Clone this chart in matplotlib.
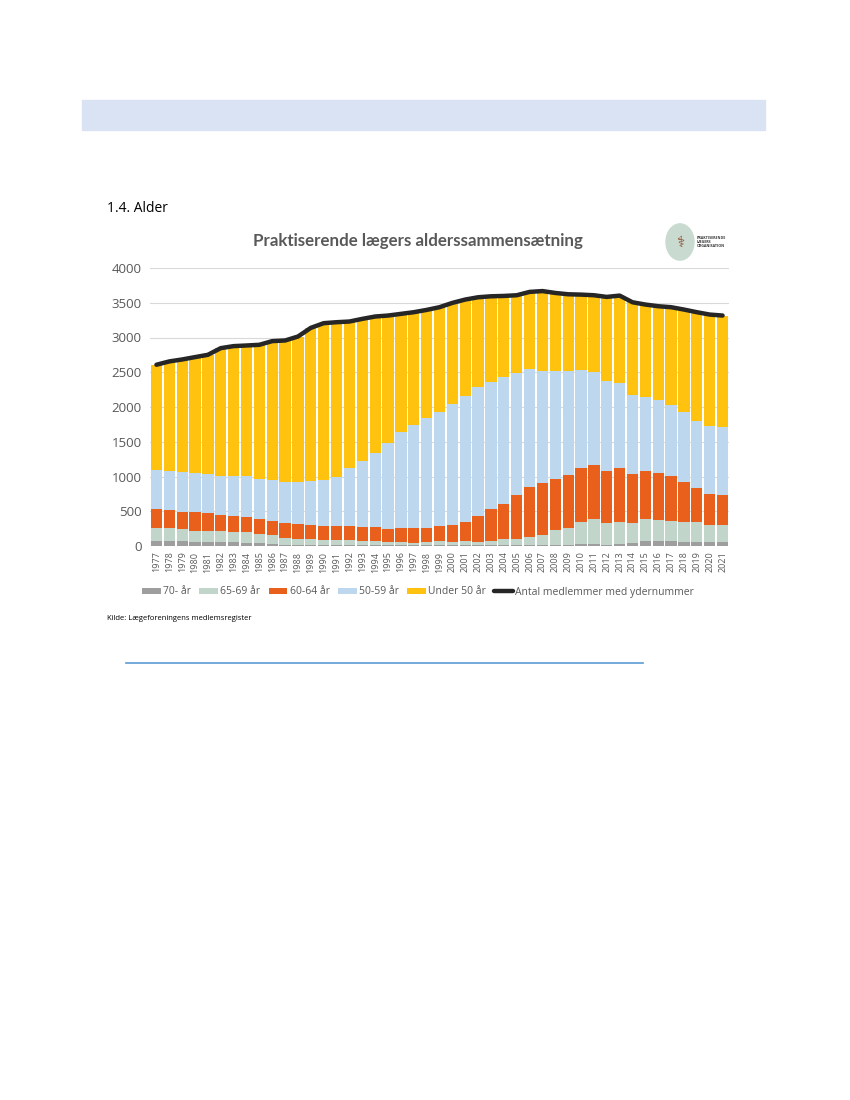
import matplotlib
matplotlib.use("Agg")
import matplotlib.pyplot as plt
from matplotlib.patches import Rectangle, Circle
import numpy as np

# data
years = list(range(1977, 2022))

over70 = [72, 77, 72, 57, 53, 53, 53, 48, 43, 33, 10, 10, 8, 8, 8, 8, 8, 8, 8, 8, 8, 8, 10,
          10, 10, 10, 10, 12, 12, 12, 8, 8, 19, 29, 29, 19, 33, 48, 77, 77, 72, 57, 57, 62, 62]
age65_69 = [182, 186, 172, 163, 167, 158, 148, 148, 134, 120, 105, 95, 88, 83, 78, 78, 69, 64,
            54, 54, 40, 54, 62, 47, 57, 52, 67, 84, 93, 112, 150, 217, 239, 316, 363, 311, 312,
            277, 306, 296, 292, 292, 283, 244, 235]
age60_64 = [272, 249, 249, 273, 254, 234, 234, 225, 215, 211, 215, 211, 205, 201, 196, 196, 196,
            206, 187, 196, 210, 201, 215, 244, 278, 364, 459, 512, 622, 718, 742, 737, 761, 775,
            780, 747, 775, 713, 689, 680, 641, 579, 493, 440, 435]
age50_59 = [565, 565, 569, 560, 569, 560, 579, 584, 570, 588, 594, 612, 632, 660, 708, 838, 947,
            1062, 1234, 1378, 1479, 1579, 1646, 1742, 1808, 1856, 1828, 1818, 1756, 1699, 1617,
            1555, 1498, 1406, 1331, 1292, 1225, 1130, 1072, 1052, 1019, 1000, 966, 981, 981]
under50 = [1517, 1579, 1622, 1665, 1708, 1842, 1862, 1880, 1933, 1996, 2033, 2086, 2206, 2254,
           2230, 2110, 2048, 1962, 1833, 1704, 1627, 1555, 1503, 1455, 1393, 1297, 1229, 1172,
           1125, 1115, 1151, 1124, 1105, 1091, 1105, 1215, 1258, 1339, 1330, 1345, 1412, 1474,
           1565, 1603, 1603]
antal = [2608, 2656, 2684, 2718, 2751, 2847, 2876, 2885, 2895, 2948, 2957, 3014, 3139, 3206,
         3220, 3230, 3268, 3302, 3316, 3340, 3364, 3397, 3436, 3498, 3546, 3579, 3593, 3598,
         3608, 3656, 3668, 3641, 3622, 3617, 3608, 3584, 3603, 3507, 3474, 3450, 3436, 3402,
         3364, 3330, 3316]

labels = ["70- år", "65-69 år", "60-64 år", "50-59 år", "Under 50 år"]
colors = ["#9E9E9E", "#C2D5CA", "#E9601D", "#BDD7EE", "#FFC20E"]
series = [over70, age65_69, age60_64, age50_59, under50]

txt = "#595959"
plt.rcParams['font.family'] = ['Open Sans', 'DejaVu Sans']

fig = plt.figure(figsize=(8.5, 11), dpi=100)

# page decorations
fig.patches.append(Rectangle((82 / 850, 1 - 130 / 1100), (765 - 82) / 850, 30 / 1100,
                             transform=fig.transFigure, color="#DAE3F3", zorder=0))
fig.text(107 / 850, 1 - 208 / 1100, "1.4. Alder", fontsize=10, color="black",
         va="center", ha="left")
fig.text(418 / 850, 1 - 241 / 1100, "Praktiserende lægers alderssammensætning",
         fontsize=12.2, fontweight="bold", color=txt, ha="center", va="center",
         family=["Lato", "DejaVu Sans"])
fig.patches.append(Circle((680 / 850, 1 - 242 / 1100), 14 / 850, transform=fig.transFigure,
                          color="#C9DBD0", zorder=1))
fig.text(680 / 850, 1 - 242 / 1100, "⚕", fontsize=11, color="#8B4A2B", ha="center",
         va="center", family=["DejaVu Sans"])
fig.text(697 / 850, 1 - 242 / 1100, "PRAKTISERENDE\nLÆGERS\nORGANISATION", fontsize=2.6,
         color="#333333", ha="left", va="center", fontweight="bold", linespacing=1.1)

ax = fig.add_axes([150 / 850, 1 - 546 / 1100, (729 - 150) / 850, (546 - 268) / 1100])
x = np.arange(len(years))
bottom = np.zeros(len(years))
for vals, lab, col in zip(series, labels, colors):
    ax.bar(x, vals, bottom=bottom, width=0.88, color=col, label=lab, zorder=2)
    bottom += np.array(vals)
ax.plot(x, antal, color="#262626", lw=3.2, label="Antal medlemmer med ydernummer",
        zorder=3, solid_capstyle="round")

ax.set_xlim(-0.5, len(years) - 0.5)
ax.set_ylim(0, 4000)
ax.set_yticks(range(0, 4001, 500))
ax.set_xticks(x)
ax.set_xticklabels([str(y) for y in years], rotation=90, fontsize=6.5, color=txt)
ax.tick_params(axis="y", labelsize=9.5, colors=txt, length=0, pad=6)
ax.tick_params(axis="x", length=0, pad=4)
ax.grid(axis="y", color="#D9D9D9", lw=0.8, zorder=0)
for s in ax.spines.values():
    s.set_visible(False)

handles, labs = ax.get_legend_handles_labels()
order = [1, 2, 3, 4, 5, 0]
fig.legend([handles[i] for i in order], [labs[i] for i in order], loc="center",
           bbox_to_anchor=(418 / 850, 1 - 592 / 1100), ncol=6, frameon=False,
           fontsize=7.5, labelcolor=txt, handlelength=1.8, handleheight=0.6,
           columnspacing=0.8, handletextpad=0.2)

fig.text(107 / 850, 1 - 619 / 1100, "Kilde: Lægeforeningens medlemsregister", fontsize=5.5,
         color="black", ha="left", va="center")
fig.lines.append(plt.Line2D([126 / 850, 643 / 850], [1 - 663 / 1100, 1 - 663 / 1100],
                            transform=fig.transFigure, color="#5B9BD5", lw=1.2))

fig.savefig("out.png", dpi=100)
